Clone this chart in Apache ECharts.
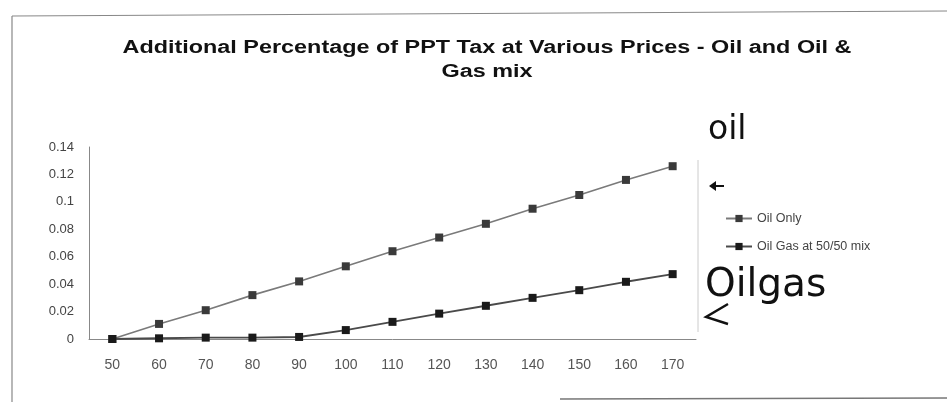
<!DOCTYPE html>
<html>
<head>
<meta charset="utf-8">
<script src="https://cdn.jsdelivr.net/npm/echarts@6/dist/echarts.min.js"></script>
<style>
  html, body { margin: 0; padding: 0; background: #fff; }
  #chart { width: 947px; height: 402px; }
</style>
</head>
<body>
<div id="chart"></div>
<script>
// Price points (x axis categories)
const prices = ['50', '60', '70', '80', '90', '100', '110', '120', '130', '140', '150', '160', '170'];

// Additional PPT tax share, oil only
const oilOnly = [0, 0.011, 0.021, 0.032, 0.042, 0.053, 0.064, 0.074, 0.084, 0.095, 0.105, 0.116, 0.126];

// Additional PPT tax share, oil & gas at a 50/50 mix
const oilGasMix = [0, 0.0005, 0.001, 0.001, 0.0015, 0.0065, 0.0125, 0.0185, 0.0242, 0.030, 0.0356, 0.0417, 0.0473];

const seriesNames = ['Oil Only', 'Oil Gas at 50/50 mix'];

const titleLines = ['Additional Percentage of PPT Tax at Various Prices - Oil and Oil &', 'Gas mix'];

const yMin = 0, yMax = 0.14, yStep = 0.02;

const chart = echarts.init(document.getElementById('chart'), null, { renderer: 'canvas' });

const baseFont = 'Liberation Sans, Arial, sans-serif';
const titleFont = 'bold 18px "Liberation Sans", Arial, sans-serif';

chart.setOption({
  backgroundColor: '#ffffff',
  animation: false,
  legend: {
    orient: 'vertical',
    left: 720,
    top: 207,
    itemGap: 15,
    itemWidth: 26,
    itemHeight: 9,
    textStyle: { fontFamily: baseFont, fontSize: 12.5, color: '#444' },
    data: seriesNames
  },
  grid: { left: 89, right: 251, top: 147, bottom: 63 },
  xAxis: {
    type: 'category',
    data: prices,
    boundaryGap: true,
    axisLine: { lineStyle: { color: '#888', width: 1 } },
    axisTick: { show: false },
    axisLabel: { fontFamily: baseFont, fontSize: 14, color: '#555', margin: 19 }
  },
  yAxis: {
    type: 'value',
    min: yMin,
    max: yMax,
    interval: yStep,
    splitLine: { show: false },
    axisLine: { show: true, lineStyle: { color: '#888', width: 1 } },
    axisTick: { show: false },
    axisLabel: {
      fontFamily: baseFont,
      fontSize: 13,
      color: '#444',
      margin: 15,
      formatter: v => (v === 0 ? '0' : v.toFixed(2).replace(/0$/, ''))
    }
  },
  series: [
    {
      name: seriesNames[0],
      type: 'line',
      data: oilOnly,
      symbol: 'rect',
      symbolSize: 8,
      lineStyle: { color: '#7a7a7a', width: 1.6 },
      itemStyle: { color: '#3a3a3a' },
      z: 3
    },
    {
      name: seriesNames[1],
      type: 'line',
      data: oilGasMix,
      symbol: 'rect',
      symbolSize: 8,
      lineStyle: { color: '#4a4a4a', width: 1.9 },
      itemStyle: { color: '#1a1a1a' },
      z: 4
    }
  ],
  graphic: [
    // two-line chart title, slightly widened
    { type: 'text', x: 487, y: 48, scaleX: 1.3, style: { text: titleLines[0], font: titleFont, fill: '#111', align: 'center', verticalAlign: 'middle' } },
    { type: 'text', x: 487, y: 72, scaleX: 1.3, style: { text: titleLines[1], font: titleFont, fill: '#111', align: 'center', verticalAlign: 'middle' } },
    // frame around the chart
    { type: 'line', shape: { x1: 12, y1: 16, x2: 947, y2: 11 }, style: { stroke: '#888', lineWidth: 1.2 } },
    { type: 'line', shape: { x1: 12, y1: 16, x2: 12, y2: 402 }, style: { stroke: '#888', lineWidth: 1.2 } },
    { type: 'line', shape: { x1: 560, y1: 399, x2: 947, y2: 398 }, style: { stroke: '#777', lineWidth: 1.5 } },
    // plot-area right edge
    { type: 'line', shape: { x1: 698, y1: 160, x2: 698, y2: 332 }, style: { stroke: '#ccc', lineWidth: 1 } },
    // handwritten notes
    { type: 'text', left: 708, top: 114, style: { text: 'oil', font: '33px "DejaVu Sans", sans-serif', fill: '#111' } },
    { type: 'polyline', shape: { points: [[712, 186], [724, 186]] }, style: { stroke: '#111', lineWidth: 2 } },
    { type: 'polygon', shape: { points: [[709, 186], [716, 181], [716, 191]] }, style: { fill: '#111' } },
    { type: 'text', left: 705, top: 266, style: { text: 'Oilgas', font: '39px "DejaVu Sans", sans-serif', fill: '#111' } },
    { type: 'polyline', shape: { points: [[728, 304], [706, 317], [728, 324]] }, style: { stroke: '#111', lineWidth: 2.4, fill: null } }
  ]
});
</script>
</body>
</html>
